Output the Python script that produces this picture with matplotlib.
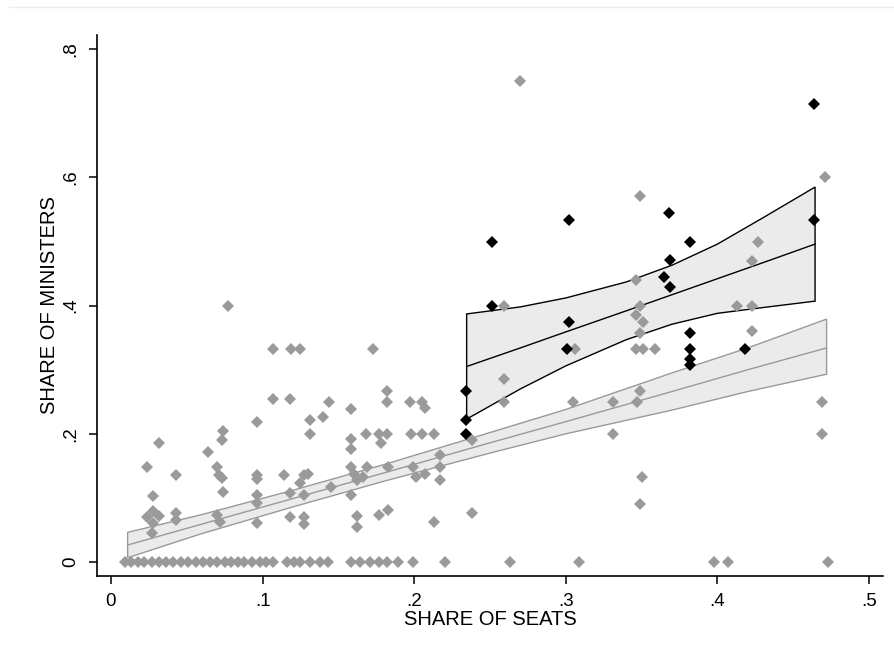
import matplotlib
matplotlib.use("Agg")
import matplotlib.pyplot as plt
from matplotlib.lines import Line2D

plt.rcParams['font.family'] = ['Liberation Sans', 'DejaVu Sans']

# parties with a zero share of ministers
zero_x = [0.009, 0.013, 0.018, 0.022, 0.027, 0.032, 0.036, 0.041, 0.046, 0.051,
          0.056, 0.061, 0.065, 0.070, 0.075, 0.079, 0.084, 0.088, 0.093, 0.098,
          0.102, 0.107, 0.116, 0.121, 0.125, 0.131, 0.138, 0.143, 0.158, 0.164,
          0.171, 0.177, 0.182, 0.189, 0.199, 0.220, 0.263, 0.309, 0.398, 0.407,
          0.473]

# other parties (grey)
gray_x = [0.270, 0.471, 0.349, 0.346, 0.349, 0.346, 0.351, 0.349, 0.259, 0.427,
          0.423, 0.413, 0.423, 0.423, 0.359, 0.346, 0.351, 0.306, 0.469, 0.469,
          0.259, 0.259, 0.305, 0.331, 0.331, 0.349, 0.347, 0.350, 0.349, 0.238,
          0.238,
          0.107, 0.119, 0.125, 0.173, 0.182, 0.182, 0.144, 0.158, 0.197, 0.205,
          0.207, 0.131, 0.131, 0.140, 0.168, 0.177, 0.182, 0.178, 0.198, 0.205,
          0.213, 0.158, 0.158, 0.217, 0.127, 0.130, 0.125, 0.158, 0.160, 0.169,
          0.166, 0.162, 0.145, 0.183, 0.199, 0.201, 0.207, 0.217, 0.217, 0.118,
          0.127, 0.158, 0.118, 0.127, 0.127, 0.162, 0.162, 0.177, 0.183, 0.213,
          0.107, 0.118, 0.096, 0.074, 0.073, 0.032, 0.064, 0.024, 0.043, 0.070,
          0.071, 0.073, 0.096, 0.096, 0.114, 0.028, 0.074, 0.096, 0.096, 0.024,
          0.028, 0.032, 0.028, 0.027, 0.043, 0.043, 0.070, 0.072, 0.096, 0.077]
gray_y = [0.750, 0.600, 0.571, 0.440, 0.400, 0.385, 0.375, 0.357, 0.400, 0.500,
          0.470, 0.400, 0.400, 0.360, 0.333, 0.333, 0.333, 0.333, 0.250, 0.200,
          0.286, 0.250, 0.250, 0.250, 0.200, 0.267, 0.250, 0.133, 0.091, 0.077,
          0.190,
          0.333, 0.333, 0.333, 0.333, 0.267, 0.250, 0.250, 0.238, 0.250, 0.250,
          0.240, 0.222, 0.200, 0.226, 0.200, 0.200, 0.200, 0.185, 0.200, 0.200,
          0.200, 0.192, 0.176, 0.167, 0.136, 0.138, 0.123, 0.149, 0.138, 0.149,
          0.133, 0.128, 0.117, 0.149, 0.149, 0.133, 0.138, 0.149, 0.128, 0.107,
          0.105, 0.105, 0.071, 0.071, 0.060, 0.072, 0.055, 0.073, 0.081, 0.063,
          0.254, 0.254, 0.219, 0.205, 0.191, 0.186, 0.172, 0.148, 0.136, 0.149,
          0.136, 0.131, 0.136, 0.130, 0.136, 0.103, 0.109, 0.105, 0.092, 0.071,
          0.079, 0.072, 0.061, 0.045, 0.076, 0.066, 0.073, 0.063, 0.061, 0.400]

# highlighted parties (black)
black_x = [0.234, 0.234, 0.234, 0.251, 0.251, 0.302, 0.302, 0.301, 0.368, 0.369,
           0.365, 0.369, 0.382, 0.382, 0.382, 0.382, 0.382, 0.418, 0.464, 0.464]
black_y = [0.267, 0.222, 0.200, 0.500, 0.400, 0.533, 0.375, 0.333, 0.545, 0.471,
           0.444, 0.429, 0.500, 0.357, 0.333, 0.316, 0.308, 0.333, 0.714, 0.533]

# fitted line + CI, all parties (grey band)
fit_all_x = [0.011, 0.06, 0.12, 0.18, 0.25, 0.30, 0.37, 0.42, 0.472]
fit_all = [0.0265, 0.0592, 0.099, 0.139, 0.186, 0.219, 0.266, 0.300, 0.334]
fit_all_hi = [0.0463, 0.0740, 0.112, 0.152, 0.202, 0.238, 0.295, 0.334, 0.379]
fit_all_lo = [0.0067, 0.0444, 0.086, 0.126, 0.170, 0.200, 0.237, 0.266, 0.293]

# fitted line + CI, highlighted parties (black band)
fit_b_x = [0.2346, 0.27, 0.30, 0.34, 0.37, 0.40, 0.43, 0.4644]
fit_b = [0.305, 0.334, 0.359, 0.392, 0.417, 0.442, 0.467, 0.496]
fit_b_hi = [0.387, 0.398, 0.412, 0.437, 0.463, 0.496, 0.537, 0.585]
fit_b_lo = [0.223, 0.270, 0.306, 0.347, 0.371, 0.388, 0.397, 0.407]

GREY = '#9a9a9a'
FILL = '#ebebeb'

fig = plt.figure(figsize=(8.94, 6.59), dpi=100)
ax = fig.add_axes([97 / 894, 1 - 576 / 659, 786 / 894, 541 / 659])

# CI bands
poly_x = fit_all_x + fit_all_x[::-1]
poly_y = fit_all_hi + fit_all_lo[::-1]
ax.fill(poly_x, poly_y, facecolor=FILL, edgecolor=GREY, lw=1.0, zorder=1)
ax.plot(fit_all_x, fit_all, color=GREY, lw=1.0, zorder=2)

poly_x = fit_b_x + fit_b_x[::-1]
poly_y = fit_b_hi + fit_b_lo[::-1]
ax.fill(poly_x, poly_y, facecolor=FILL, edgecolor='black', lw=1.0, zorder=1)
ax.plot(fit_b_x, fit_b, color='black', lw=1.0, zorder=2)

# points
ax.plot(zero_x, [0] * len(zero_x), 'D', color=GREY, ms=5.7, mew=0, zorder=3, clip_on=False)
ax.plot(gray_x, gray_y, 'D', color=GREY, ms=5.7, mew=0, zorder=3)
ax.plot(black_x, black_y, 'D', color='black', ms=5.7, mew=0, zorder=4)

ax.set_xlim(-0.0092, 0.5092)
ax.set_ylim(-0.0218, 0.8222)
ax.spines['top'].set_visible(False)
ax.spines['right'].set_visible(False)
for s in ['left', 'bottom']:
    ax.spines[s].set_linewidth(1.2)

ax.set_xticks([0, .1, .2, .3, .4, .5])
ax.set_xticklabels(['0', '.1', '.2', '.3', '.4', '.5'])
ax.set_yticks([0, .2, .4, .6, .8])
ax.set_yticklabels(['0', '.2', '.4', '.6', '.8'], rotation=90, va='center')
ax.tick_params(axis='both', length=6, width=1.1, labelsize=13.5, colors='black')
ax.tick_params(axis='x', pad=6)
ax.tick_params(axis='y', pad=7)

ax.set_xlabel('SHARE OF SEATS', fontsize=14.5, labelpad=0)
ax.set_ylabel('SHARE OF MINISTERS', fontsize=14.5, labelpad=2)

# faint border line at the top of the screenshot
fig.add_artist(Line2D([0.01, 1.0], [1 - 7 / 659, 1 - 7 / 659], color='#e9eeee', lw=1.0))

fig.savefig('out.png', dpi=100)
